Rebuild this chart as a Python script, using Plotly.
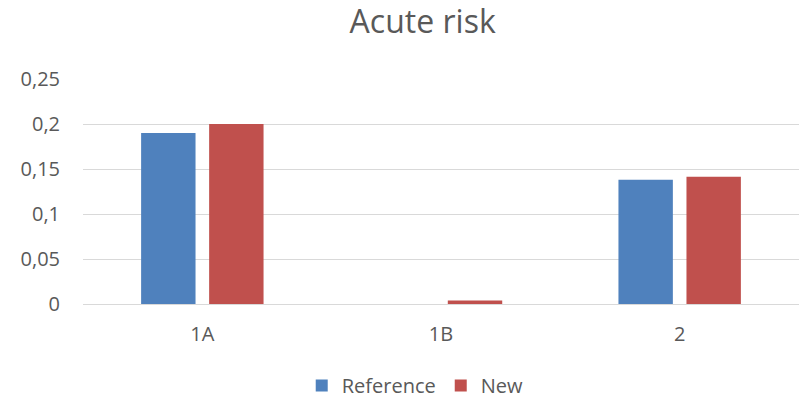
import plotly.graph_objects as go

categories = ["1A", "1B", "2"]
reference_vals = [0.19, 0.0, 0.138]
new_vals = [0.20, 0.004, 0.1415]
tick_vals = [0, 0.05, 0.1, 0.15, 0.2, 0.25]
tick_text = ["0", "0,05", "0,1", "0,15", "0,2", "0,25"]

font_fam = "Open Sans, Carlito, Liberation Sans, sans-serif"
grey = "#595959"

fig = go.Figure()
fig.add_trace(go.Bar(x=categories, y=reference_vals, name="Reference",
                     marker=dict(color="#4F81BD", line=dict(width=0))))
fig.add_trace(go.Bar(x=categories, y=new_vals, name="New",
                     marker=dict(color="#C0504D", line=dict(width=0))))

fig.update_layout(
    width=802, height=399,
    paper_bgcolor="white", plot_bgcolor="white",
    margin=dict(l=83, r=3, t=79, b=95, autoexpand=False),
    barmode="group", bargap=0.43, bargroupgap=0.2,
    title=dict(text="Acute risk", x=0.527, xanchor="center", xref="container",
               y=0.945, yanchor="middle", yref="container",
               font=dict(family=font_fam, size=32, color=grey)),
    font=dict(family=font_fam, color=grey, size=20),
    legend=dict(orientation="h", x=0.464, xanchor="center", xref="paper",
                y=0.034, yanchor="middle", yref="container",
                font=dict(size=20, color=grey), itemwidth=30,
                traceorder="normal"),
    xaxis=dict(showgrid=False, showline=False, ticks="",
               ticklabelstandoff=16,
               tickfont=dict(size=20, color=grey)),
    yaxis=dict(range=[0, 0.25], tickvals=tick_vals, ticktext=tick_text,
               showgrid=True, gridcolor="#D9D9D9", gridwidth=1,
               zeroline=True, zerolinecolor="#D9D9D9", zerolinewidth=1,
               showline=False, ticks="", ticklabelstandoff=22,
               tickfont=dict(size=20, color=grey)),
)

fig.write_html("out.html", config={"displayModeBar": False},
               post_script="document.body.style.margin='0';document.body.style.overflow='hidden';")
